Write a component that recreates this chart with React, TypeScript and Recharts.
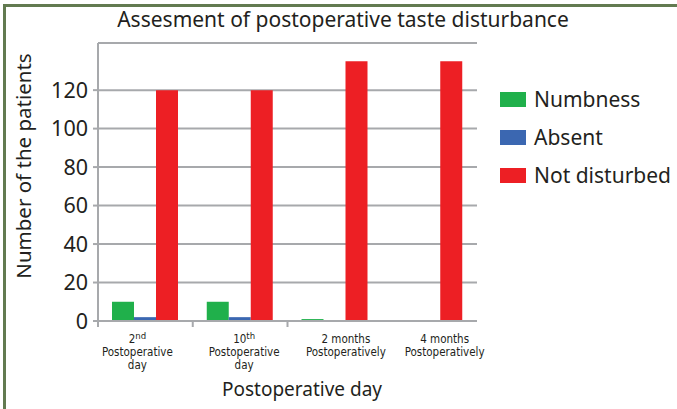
import { Bar, BarChart, CartesianGrid, Legend, XAxis, YAxis } from 'recharts'

const categories = ['2nd Postoperative day', '10th Postoperative day', '2 months Postoperatively', '4 months Postoperatively']
const seriesNames = ['Numbness', 'Absent', 'Not disturbed']
const numbness = [10, 10, 1, 0]
const absent = [2, 2, 0, 0]
const notDisturbed = [120, 120, 135, 135]
const yTicks = [0, 20, 40, 60, 80, 100, 120]

// tick label pieces: first line, its superscript, remaining lines
const tickFirst = ['2', '10', '2 months', '4 months']
const tickSup = ['nd', 'th', '', '']
const tickRest = [['Postoperative', 'day'], ['Postoperative', 'day'], ['Postoperatively'], ['Postoperatively']]

const data = categories.map((name, i) => ({
  name,
  numbness: numbness[i],
  absent: absent[i],
  notDisturbed: notDisturbed[i],
}))

const W = 677
const H = 409
const PLOT_LEFT = 98
const PLOT_RIGHT = 477
const BAND = (PLOT_RIGHT - PLOT_LEFT) / categories.length
const GRID = '#a7a9ac'
const INK = '#231f20'
const FONT = '"Noto Sans", sans-serif'
const NARROW = '"DejaVu Sans Condensed", "Noto Sans", sans-serif'
const labelShift = [-8, 4, 11, 15]

function CategoryTick(props: any) {
  const { x, y, payload } = props
  const i = categories.indexOf(payload.value)
  const cx = x + labelShift[i]
  return (
    <g>
      {i < 3 && <line x1={x - BAND / 2} x2={x - BAND / 2} y1={y} y2={y + 6} stroke={GRID} strokeWidth={2} />}
      <text x={cx} y={y + 22} textAnchor="middle" fontFamily={NARROW} fontSize={11.5} fill={INK}>
        <tspan>{tickFirst[i]}</tspan>
        {tickSup[i] && (
          <tspan dy={-4} fontSize={9.5}>
            {tickSup[i]}
          </tspan>
        )}
        {tickRest[i].map((t, k) => (
          <tspan key={k} x={cx} y={y + 35 + k * 13}>
            {t}
          </tspan>
        ))}
      </text>
    </g>
  )
}

function LegendBox(props: any) {
  const { payload = [] } = props
  const items = [...payload].sort((a: any, b: any) => seriesNames.indexOf(a.value) - seriesNames.indexOf(b.value))
  return (
    <div style={{ fontFamily: FONT }}>
      {items.map((p: any) => (
        <div key={p.value} style={{ display: 'flex', alignItems: 'center', height: 38 }}>
          <span style={{ width: 26, height: 15, background: p.color, marginRight: 8 }} />
          <span style={{ fontSize: 21, color: INK }}>{p.value}</span>
        </div>
      ))}
    </div>
  )
}

export default function App() {
  return (
    <div style={{ position: 'absolute', left: 0, top: 0, width: W, height: H, background: '#fff' }}>
      <div
        style={{
          position: 'absolute',
          left: 3,
          top: 4,
          width: W - 6,
          height: H - 4,
          borderLeft: '3px solid #627a50',
          borderTop: '3px solid #627a50',
        }}
      />
      <div style={{ position: 'absolute', left: 0, top: 0 }}>
        <BarChart
          width={W}
          height={H}
          data={data}
          margin={{ top: 43, right: W - PLOT_RIGHT, bottom: 28, left: 0 }}
          barSize={22}
          barGap={0}
        >
          <text x={343} y={27} textAnchor="middle" fontFamily={FONT} fontSize={21} fill={INK}>
            Assesment of postoperative taste disturbance
          </text>
          <CartesianGrid horizontal vertical={false} stroke={GRID} strokeWidth={2} />
          <XAxis
            dataKey="name"
            interval={0}
            height={60}
            axisLine={{ stroke: GRID, strokeWidth: 2 }}
            tickLine={false}
            tickSize={0}
            tickMargin={0}
            tick={<CategoryTick />}
            label={{
              content: () => (
                <text x={302} y={396} textAnchor="middle" fontFamily={FONT} fontSize={19} fill={INK}>
                  Postoperative day
                </text>
              ),
            }}
          />
          <YAxis
            width={PLOT_LEFT}
            domain={[0, 144.5]}
            ticks={yTicks}
            interval={0}
            axisLine={{ stroke: GRID, strokeWidth: 2 }}
            tickLine={{ stroke: GRID, strokeWidth: 2 }}
            tickSize={5}
            tickMargin={5}
            tick={{ fontFamily: FONT, fontSize: 21.5, fill: INK }}
            label={{
              content: () => (
                <text
                  transform="translate(31,166) rotate(-90)"
                  textAnchor="middle"
                  fontFamily={FONT}
                  fontSize={20.5}
                  fill={INK}
                >
                  Number of the patients
                </text>
              ),
            }}
          />
          <Legend
            layout="horizontal"
            verticalAlign="middle"
            align="center"
            content={<LegendBox />}
            wrapperStyle={{ left: 500, top: 80, width: 177 }}
          />
          <Bar dataKey="numbness" name="Numbness" fill="#20b04b" isAnimationActive={false} />
          <Bar dataKey="absent" name="Absent" fill="#3b67b1" isAnimationActive={false} />
          <Bar dataKey="notDisturbed" name="Not disturbed" fill="#ed1f24" isAnimationActive={false} />
        </BarChart>
      </div>
    </div>
  )
}
